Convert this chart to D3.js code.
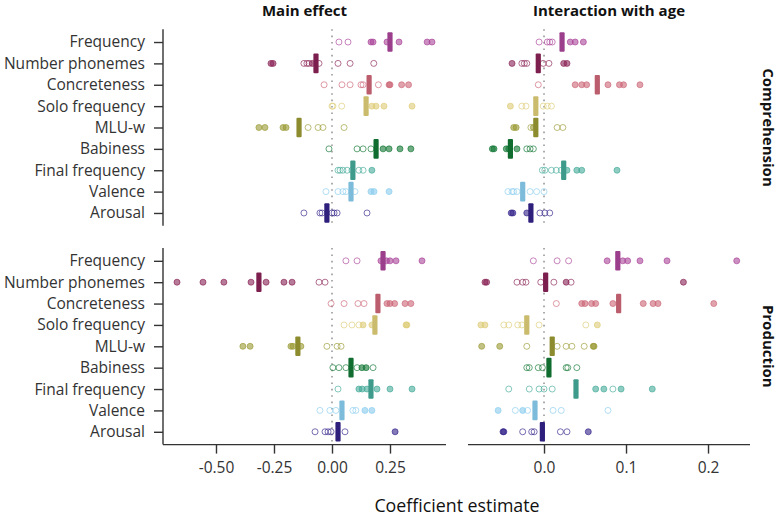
<!DOCTYPE html>
<html><head><meta charset="utf-8">
<script src="https://cdn.jsdelivr.net/npm/d3@7"></script>
<style>body{margin:0;background:#fff}svg{display:block}</style>
</head><body>
<svg id="chart" width="780" height="516"></svg>
<script>
const categories = ["Frequency","Number phonemes","Concreteness","Solo frequency","MLU-w","Babiness","Final frequency","Valence","Arousal"];
const colors = ["#AA4499","#882255","#CC6677","#DDCC77","#999933","#117733","#44AA99","#88CCEE","#332288"];
const columns = ["Main effect","Interaction with age"];
const rows = ["Comprehension","Production"];
const leftTicks = [-0.5,-0.25,0,0.25];
const rightTicks = [0,0.1,0.2];

// overall estimates (bars)
const compMainEst = [0.25,-0.069,0.16,0.147,-0.142,0.19,0.09,0.082,-0.022];
const compIntEst  = [0.022,-0.007,0.065,-0.01,-0.01,-0.041,0.024,-0.026,-0.016];
const prodMainEst = [0.22,-0.315,0.198,0.185,-0.147,0.082,0.168,0.043,0.026];
const prodIntEst  = [0.09,0.002,0.091,-0.021,0.01,0.006,0.039,-0.011,-0.002];

// per-language estimates: [value, significant]
const compMainPts = [
 [[0.030,0],[0.069,0],[0.168,1],[0.177,1],[0.237,1],[0.289,1],[0.41,1],[0.431,1]],
 [[-0.263,1],[-0.254,1],[-0.121,0],[-0.108,0],[-0.099,0],[-0.085,1],[-0.056,0],[0.026,0],[0.078,0],[0.18,0]],
 [[-0.034,0],[0.043,0],[0.078,0],[0.125,0],[0.134,0],[0.2,0],[0.246,1],[0.25,1],[0.3,1],[0.33,1]],
 [[0,0],[0.004,0],[0.042,0],[0.172,1],[0.19,1],[0.224,1],[0.345,1]],
 [[-0.315,1],[-0.289,1],[-0.211,1],[-0.198,1],[-0.103,0],[-0.06,0],[-0.039,0],[0.052,0]],
 [[-0.013,0],[0.108,0],[0.134,0],[0.168,0],[0.22,1],[0.246,1],[0.293,1],[0.34,1]],
 [[0.026,0],[0.035,0],[0.047,0],[0.065,0],[0.086,0],[0.116,0],[0.134,0],[0.172,1]],
 [[-0.026,0],[0.026,0],[0.047,0],[0.06,0],[0.099,0],[0.168,1],[0.181,1],[0.246,1]],
 [[-0.121,0],[-0.052,0],[-0.043,0],[0,0],[0.009,0],[0.022,0],[0.151,0]]
];
const compIntPts = [
 [[-0.006,0],[0.004,0],[0.007,0],[0.01,0],[0.032,1],[0.038,1],[0.048,1]],
 [[-0.039,1],[-0.027,0],[-0.024,0],[-0.021,0],[-0.001,0],[0.006,0],[0.024,1],[0.028,1]],
 [[-0.007,0],[0.038,1],[0.046,1],[0.052,1],[0.078,1],[0.092,1],[0.097,1],[0.117,1]],
 [[-0.041,1],[-0.027,0],[-0.022,0],[-0.001,0],[0.004,0],[0.009,0]],
 [[-0.037,1],[-0.034,1],[-0.016,0],[-0.013,1],[0.016,0],[0.023,0]],
 [[-0.063,1],[-0.061,1],[-0.046,1],[-0.043,1],[-0.033,1],[-0.021,0],[-0.017,0],[-0.013,0]],
 [[-0.002,0],[0.001,0],[0.009,0],[0.015,0],[0.021,0],[0.028,1],[0.04,1],[0.046,1],[0.089,1]],
 [[-0.044,0],[-0.039,0],[-0.037,0],[-0.033,0],[-0.017,0],[-0.009,0],[0,0]],
 [[-0.04,1],[-0.038,1],[-0.021,1],[-0.005,0],[0.001,0],[0.007,0]]
];
const prodMainPts = [
 [[0.06,0],[0.108,0],[0.211,1],[0.235,1],[0.25,1],[0.276,1],[0.388,1]],
 [[-0.668,1],[-0.556,1],[-0.466,1],[-0.349,1],[-0.284,1],[-0.207,1],[-0.172,1],[-0.056,0],[-0.03,0]],
 [[-0.004,0],[0.052,0],[0.112,0],[0.138,0],[0.237,1],[0.25,1],[0.27,1],[0.315,1],[0.34,1]],
 [[0.052,0],[0.086,0],[0.116,0],[0.134,1],[0.172,1],[0.319,1],[0.323,1]],
 [[-0.384,1],[-0.353,1],[-0.177,1],[-0.168,1],[-0.134,1],[-0.022,0],[0.022,0],[0.039,0]],
 [[0.004,0],[0.03,0],[0.06,0],[0.108,0],[0.129,1],[0.147,1],[0.177,0]],
 [[0.026,0],[0.116,1],[0.13,1],[0.151,1],[0.194,1],[0.25,1],[0.345,1]],
 [[-0.052,0],[-0.009,0],[0.017,0],[0.09,0],[0.103,0],[0.142,1],[0.172,1]],
 [[-0.073,0],[-0.03,0],[-0.017,0],[-0.004,0],[0.056,0],[0.272,1]]
];
const prodIntPts = [
 [[-0.013,0],[0.016,0],[0.03,0],[0.077,1],[0.096,1],[0.102,1],[0.117,1],[0.15,1],[0.235,1]],
 [[-0.072,1],[-0.07,1],[-0.033,0],[-0.026,0],[-0.022,0],[-0.004,0],[0.012,0],[0.027,1],[0.033,0],[0.17,1]],
 [[0.015,0],[0.046,1],[0.05,1],[0.058,1],[0.063,1],[0.084,1],[0.121,1],[0.133,1],[0.139,1],[0.207,1]],
 [[-0.077,1],[-0.072,1],[-0.049,0],[-0.043,0],[-0.032,0],[-0.027,0],[-0.006,0],[0.051,0],[0.065,1]],
 [[-0.076,1],[-0.054,1],[-0.021,0],[0.016,0],[0.027,0],[0.034,0],[0.049,0],[0.06,1],[0.061,1]],
 [[-0.021,0],[-0.018,0],[-0.007,0],[-0.002,0],[0.027,0],[0.029,0],[0.04,0]],
 [[-0.043,0],[-0.018,0],[-0.006,0],[0,0],[0.01,0],[0.063,1],[0.073,1],[0.084,0],[0.094,1],[0.132,1]],
 [[-0.056,1],[-0.035,0],[-0.026,1],[-0.02,0],[0.011,0],[0.021,0],[0.078,0]],
 [[-0.05,1],[-0.049,1],[-0.026,0],[-0.015,0],[-0.012,0],[0.02,0],[0.028,0],[0.054,1]]
];

const FONT = "'Open Sans', 'Noto Sans', sans-serif";
const svg = d3.select("#chart");
const colX = [[163,446],[468,750]];
const rowY = [[29.2,225.8],[248,444.6]];
const xScales = [
  d3.scaleLinear().domain([-0.7284,0.4914]).range(colX[0]),
  d3.scaleLinear().domain([-0.0927,0.2512]).range(colX[1])
];
const yScales = rowY.map(r => d3.scalePoint().domain(categories).range(r).padding(0.6));
const color = d3.scaleOrdinal().domain(categories).range(colors);

const panels = [
  {r:0,c:0,est:compMainEst,pts:compMainPts},
  {r:0,c:1,est:compIntEst,pts:compIntPts},
  {r:1,c:0,est:prodMainEst,pts:prodMainPts},
  {r:1,c:1,est:prodIntEst,pts:prodIntPts}
];

panels.forEach(p => {
  const x = xScales[p.c], y = yScales[p.r];
  const g = svg.append("g");
  g.append("line").attr("x1",x(0)).attr("x2",x(0))
    .attr("y1",rowY[p.r][0]).attr("y2",rowY[p.r][1])
    .attr("stroke","#999").attr("stroke-width",1.6).attr("stroke-dasharray","1.6,4.8");
  categories.forEach((cat,i) => {
    g.selectAll(null).data(p.pts[i]).enter().append("circle")
      .attr("cx",d=>x(d[0])).attr("cy",y(cat)).attr("r",3)
      .attr("fill",d=>d[1]?color(cat):"none")
      .attr("fill-opacity",0.6)
      .attr("stroke",color(cat)).attr("stroke-opacity",0.65).attr("stroke-width",1);
  });
  g.selectAll(null).data(categories).enter().append("rect")
    .attr("x",(d,i)=>x(p.est[i])-2.6).attr("width",5.2)
    .attr("y",d=>y(d)-9.8).attr("height",19.6).attr("rx",1)
    .attr("fill",d=>d3.color(color(d)).darker(0.25));
});

rowY.forEach((r,ri) => {
  const ax = svg.append("g").attr("transform",`translate(${colX[0][0]},0)`)
    .call(d3.axisLeft(yScales[ri]).tickSize(9).tickPadding(9));
  ax.select(".domain").attr("d",`M0,${r[0]}V${r[1]}`).attr("stroke","#333").attr("stroke-width",1.4);
  ax.selectAll(".tick line").attr("stroke","#333").attr("stroke-width",1.4);
  ax.selectAll(".tick text").attr("font-family",FONT).attr("font-size",15.5).attr("fill","#333");
});

const fmtL = d3.format(".2f"), fmtR = d3.format(".1f");
[0,1].forEach(c => {
  const ax = svg.append("g").attr("transform",`translate(0,${rowY[1][1]})`)
    .call(d3.axisBottom(xScales[c]).tickValues(c===0?leftTicks:rightTicks)
      .tickFormat(d => (c===0?fmtL(d):fmtR(d)).replace("−","-")).tickSize(9).tickPadding(8));
  ax.select(".domain").attr("d",`M${colX[c][0]},0H${colX[c][1]}`).attr("stroke","#333").attr("stroke-width",1.4);
  ax.selectAll(".tick line").attr("stroke","#333").attr("stroke-width",1.4);
  ax.selectAll(".tick text").attr("font-family",FONT).attr("font-size",15.5).attr("fill","#333");
});

columns.forEach((t,c) => {
  svg.append("text").attr("x",(colX[c][0]+colX[c][1])/2).attr("y",16)
    .attr("text-anchor","middle").attr("font-family",FONT).attr("font-weight","bold")
    .attr("font-size",15).attr("fill","#111").text(t);
});
rows.forEach((t,r) => {
  const cy = (rowY[r][0]+rowY[r][1])/2;
  svg.append("text").attr("transform",`translate(763,${cy}) rotate(90)`)
    .attr("text-anchor","middle").attr("font-family",FONT).attr("font-weight","bold")
    .attr("font-size",15).attr("fill","#111").text(t);
});
svg.append("text").attr("x",457).attr("y",512).attr("text-anchor","middle")
  .attr("font-family",FONT).attr("font-size",17.8).attr("fill","#111").text("Coefficient estimate");
</script>
</body></html>
